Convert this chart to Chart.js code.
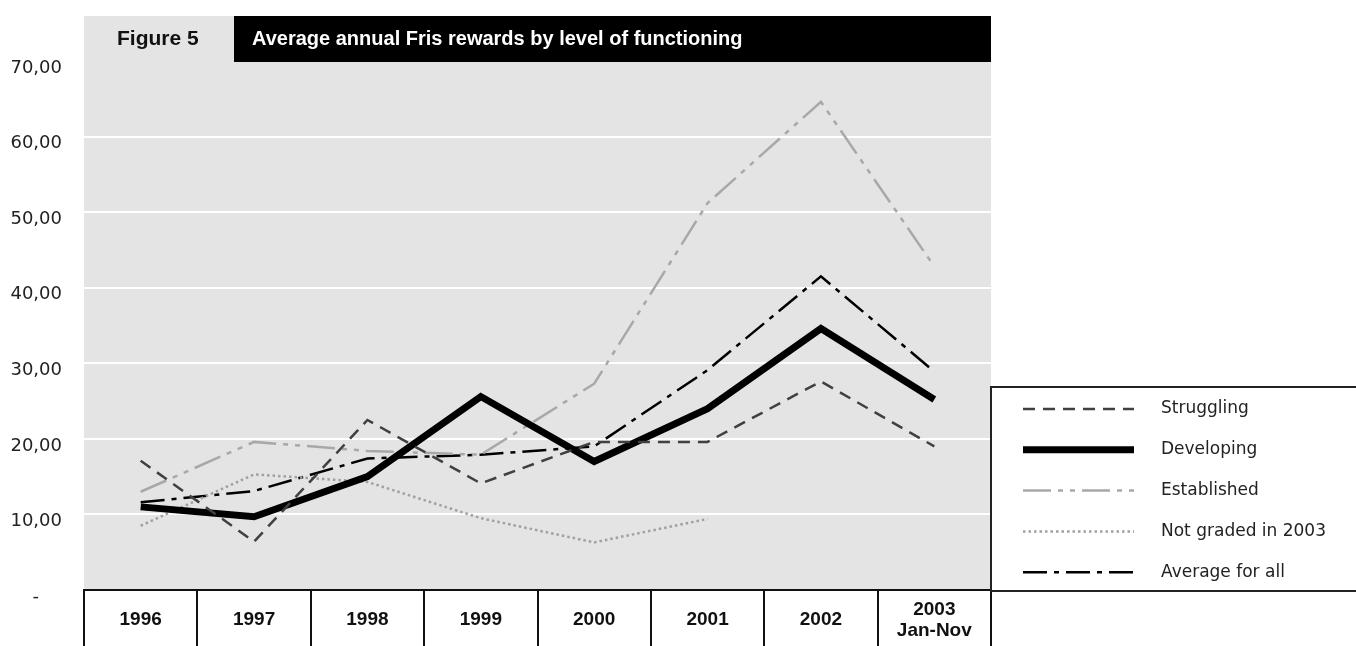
<!DOCTYPE html>
<html>
<head>
<meta charset="utf-8">
<title>Figure 5</title>
<script src="https://cdn.jsdelivr.net/npm/chart.js@4"></script>
<style>
  html, body { margin: 0; padding: 0; background: #ffffff; }
  canvas { display: block; }
</style>
</head>
<body>
<canvas id="frisChart" width="1356" height="646"></canvas>
<script>
// Years on the x-axis (last one is a two-line label)
const years = ["1996", "1997", "1998", "1999", "2000", "2001", "2002", ["2003", "Jan-Nov"]];

// Average annual Fris rewards per level of functioning
const struggling = [17.1, 6.4, 22.5, 14.1, 19.6, 19.6, 27.6, 19.0];
const developing = [11.0, 9.7, 15.0, 25.6, 17.0, 24.0, 34.6, 25.2];
const established = [13.0, 19.6, 18.4, 17.9, 27.3, 51.2, 64.6, 42.8];
const notGraded = [8.5, 15.3, 14.3, 9.5, 6.3, 9.4, null, null];
const averageAll = [11.6, 13.1, 17.4, 17.9, 19.0, 29.1, 41.5, 28.9];

const seriesNames = ["Struggling", "Developing", "Established", "Not graded in 2003", "Average for all"];

const figureLabel = "Figure 5";
const figureTitle = "Average annual Fris rewards by level of functioning";

const plotGrey = "#e4e4e4";

// Draws the grey panel, the black title bar and the boxed legend
const frame = {
    id: "frame",
    beforeDraw(chart) {
        const { ctx, chartArea } = chart;
        ctx.save();
        ctx.fillStyle = plotGrey;
        ctx.fillRect(chartArea.left, 16, chartArea.right - chartArea.left, chartArea.bottom - 16);
        ctx.restore();
    },
    afterDraw(chart) {
        const { ctx, chartArea } = chart;
        ctx.save();

        // title bar
        ctx.fillStyle = plotGrey;
        ctx.fillRect(chartArea.left, 16, 150, 46);
        ctx.fillStyle = "#000000";
        ctx.fillRect(234, 16, chartArea.right - 234, 46);

        ctx.textBaseline = "middle";
        ctx.textAlign = "left";
        ctx.fillStyle = "#111111";
        ctx.font = "bold 21px 'Liberation Sans', Arial, sans-serif";
        ctx.fillText(figureLabel, 117, 39);
        ctx.fillStyle = "#ffffff";
        ctx.font = "bold 20px 'Liberation Sans', Arial, sans-serif";
        ctx.fillText(figureTitle, 252, 39);

        // legend box
        ctx.strokeStyle = "#222222";
        ctx.lineWidth = 2;
        ctx.strokeRect(chartArea.right, 387, 400, 204);

        ctx.font = "17px 'DejaVu Sans', sans-serif";
        chart.data.datasets.forEach((ds, i) => {
            const y = 409 + i * 40.8;
            ctx.save();
            ctx.strokeStyle = ds.borderColor;
            ctx.lineWidth = ds.borderWidth;
            ctx.setLineDash(ds.borderDash || []);
            ctx.beginPath();
            ctx.moveTo(1023, y);
            ctx.lineTo(1134, y);
            ctx.stroke();
            ctx.restore();
            ctx.fillStyle = "#222222";
            ctx.fillText(ds.label, 1161, y);
        });
        ctx.restore();
    },
};

const ctx = document.getElementById("frisChart").getContext("2d");
new Chart(ctx, {
    type: "line",
    data: {
        labels: years,
        datasets: [
            {
                label: seriesNames[0],
                data: struggling,
                borderColor: "#404040",
                borderWidth: 2.5,
                borderDash: [12, 8],
            },
            {
                label: seriesNames[1],
                data: developing,
                borderColor: "#000000",
                borderWidth: 7,
            },
            {
                label: seriesNames[2],
                data: established,
                borderColor: "#a8a8a8",
                borderWidth: 2.5,
                borderDash: [28, 7, 5, 7, 5, 7],
            },
            {
                label: seriesNames[3],
                data: notGraded,
                borderColor: "#a0a0a0",
                borderWidth: 2.5,
                borderDash: [2.5, 3],
            },
            {
                label: seriesNames[4],
                data: averageAll,
                borderColor: "#000000",
                borderWidth: 2.5,
                borderDash: [24, 7, 5, 7],
            },
        ],
    },
    options: {
        responsive: false,
        animation: false,
        devicePixelRatio: 1,
        datasets: {
            line: {
                pointRadius: 0,
                tension: 0,
                fill: false,
                borderJoinStyle: "miter",
                spanGaps: false,
            },
        },
        layout: {
            padding: { top: 61, right: 365, bottom: 0, left: 0 },
        },
        plugins: {
            legend: { display: false },
            tooltip: { enabled: false },
        },
        scales: {
            x: {
                offset: true,
                afterFit(scale) {
                    scale.height = 56;
                },
                grid: {
                    offset: true,
                    drawOnChartArea: false,
                    drawTicks: true,
                    tickLength: 56,
                    color: "#111111",
                    lineWidth: 2,
                },
                border: { display: true, color: "#111111", width: 2 },
                ticks: {
                    autoSkip: false,
                    maxRotation: 0,
                    crossAlign: "center",
                    padding: -36,
                    color: "#111111",
                    font: { family: "'Liberation Sans', Arial, sans-serif", size: 19, weight: "bold", lineHeight: 1.08 },
                },
            },
            y: {
                min: 0,
                max: 70,
                afterFit(scale) {
                    scale.width = 84;
                },
                grid: {
                    drawTicks: false,
                    lineWidth: 2,
                    color: c => (c.tick && c.tick.value === 0 ? "rgba(0,0,0,0)" : "#ffffff"),
                },
                border: { display: false },
                ticks: {
                    stepSize: 10,
                    padding: 22,
                    labelOffset: 7,
                    color: "#222222",
                    font: { family: "'DejaVu Sans', sans-serif", size: 18 },
                    callback: value => (value === 0 ? "-    " : value.toFixed(2).replace(".", ",")),
                },
            },
        },
    },
    plugins: [frame],
});
</script>
</body>
</html>
